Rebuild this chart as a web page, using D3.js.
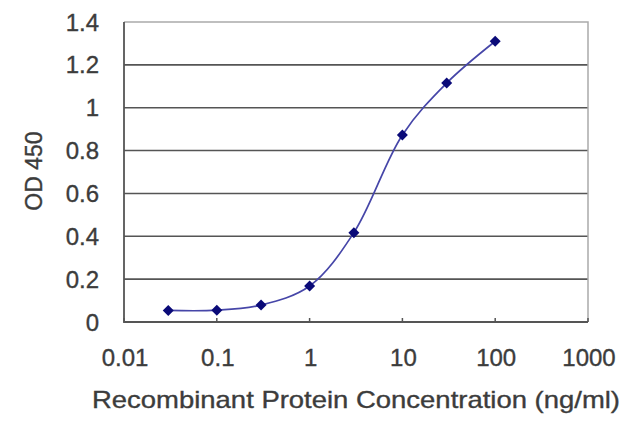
<!DOCTYPE html>
<html>
<head>
<meta charset="utf-8">
<script src="https://cdn.jsdelivr.net/npm/d3@7"></script>
<style>
  body { margin: 0; background: #fff; }
  svg { display: block; font-family: "Liberation Sans", Arial, sans-serif; }
  text { stroke: #3c3c3c; stroke-width: 0.35px; }
</style>
</head>
<body>
<svg id="chart" width="640" height="427"></svg>
<script>
// concentrations (ng/ml) and OD readings
const concentrations = [0.03, 0.1, 0.3, 1, 3, 10, 30, 100];
const odValues = [0.054, 0.055, 0.079, 0.168, 0.417, 0.873, 1.115, 1.31];
const xTicks = [0.01, 0.1, 1, 10, 100, 1000];
const xTickLabels = ["0.01", "0.1", "1", "10", "100", "1000"];
const yTicks = [0, 0.2, 0.4, 0.6, 0.8, 1, 1.2, 1.4];
const yTickLabels = ["0", "0.2", "0.4", "0.6", "0.8", "1", "1.2", "1.4"];

const svg = d3.select('#chart');
const plotLeft = 124, plotRight = 588, plotTop = 22, plotBottom = 322;
const textColor = '#3c3c3c';

const x = d3.scaleLog().domain([0.01, 1000]).range([plotLeft, plotRight]);
const y = d3.scaleLinear().domain([0, 1.4]).range([plotBottom, plotTop]);

// gridlines
svg.append('g')
    .selectAll('line')
    .data(yTicks.filter(d => d > 0 && d < 1.4))
    .join('line')
    .attr('x1', plotLeft).attr('x2', plotRight)
    .attr('y1', d => y(d)).attr('y2', d => y(d))
    .attr('stroke', '#555')
    .attr('stroke-width', 1.6);

// top and right border (light)
svg.append('path')
    .attr('d', `M${plotLeft},${plotTop}H${plotRight}V${plotBottom}`)
    .attr('fill', 'none')
    .attr('stroke', '#aaa')
    .attr('stroke-width', 1.5);

// x axis ticks (inward)
svg.append('g')
    .selectAll('line')
    .data(xTicks)
    .join('line')
    .attr('x1', d => x(d)).attr('x2', d => x(d))
    .attr('y1', plotBottom).attr('y2', plotBottom - 4)
    .attr('stroke', '#555')
    .attr('stroke-width', 1.5);

// left and bottom axis lines
svg.append('path')
    .attr('d', `M${plotLeft},${plotTop}V${plotBottom}H${plotRight}`)
    .attr('fill', 'none')
    .attr('stroke', '#555')
    .attr('stroke-width', 1.8);

// y tick labels
svg.append('g')
    .selectAll('text')
    .data(yTicks)
    .join('text')
    .attr('x', 99)
    .attr('y', d => y(d))
    .attr('dy', '0.36em')
    .attr('text-anchor', 'end')
    .attr('font-size', 24)
    .attr('fill', textColor)
    .text((d, i) => yTickLabels[i]);

// x tick labels
svg.append('g')
    .selectAll('text')
    .data(xTicks)
    .join('text')
    .attr('x', d => x(d) + 1)
    .attr('y', 366)
    .attr('text-anchor', 'middle')
    .attr('font-size', 24)
    .attr('fill', textColor)
    .text((d, i) => xTickLabels[i]);

// axis titles
svg.append('text')
    .attr('x', 92)
    .attr('y', 408)
    .attr('font-size', 24)
    .attr('fill', textColor)
    .attr('textLength', 528)
    .attr('lengthAdjust', 'spacingAndGlyphs')
    .text('Recombinant Protein Concentration (ng/ml)');

svg.append('text')
    .attr('transform', 'translate(42,171) rotate(-90)')
    .attr('text-anchor', 'middle')
    .attr('font-size', 23)
    .attr('fill', textColor)
    .text('OD 450');

// curve
const points = concentrations.map((c, i) => [c, odValues[i]]);
svg.append('path')
    .datum(points)
    .attr('fill', 'none')
    .attr('stroke', '#4646a8')
    .attr('stroke-width', 1.7)
    .attr('d', d3.line()
        .x(d => x(d[0]))
        .y(d => y(d[1]))
        .curve(d3.curveCatmullRom.alpha(0.5)));

// diamond markers
svg.append('g')
    .selectAll('path')
    .data(points)
    .join('path')
    .attr('transform', d => `translate(${x(d[0])},${y(d[1])})`)
    .attr('d', 'M0,-5.5L5.5,0L0,5.5L-5.5,0Z')
    .attr('fill', '#0a0a78');
</script>
</body>
</html>
